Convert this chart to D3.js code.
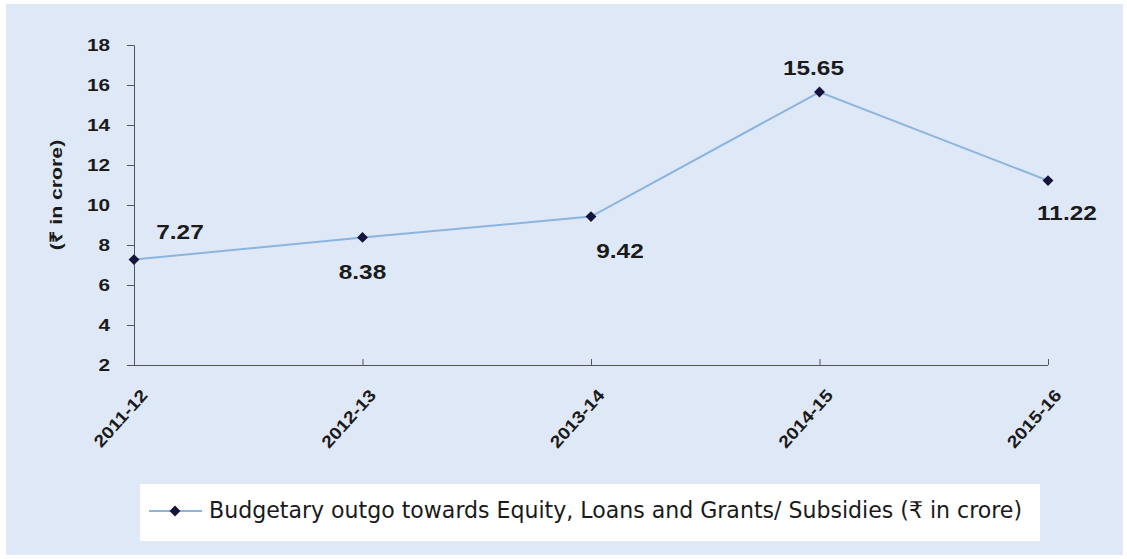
<!DOCTYPE html>
<html>
<head>
<meta charset="utf-8">
<script src="https://cdn.jsdelivr.net/npm/d3@7/dist/d3.min.js"></script>
<style>
  html, body { margin: 0; padding: 0; background: #ffffff; }
  svg { display: block; }
</style>
</head>
<body>
<svg id="chart" width="1127" height="559"></svg>
<script>
// Budgetary outgo by year
const years = ["2011-12", "2012-13", "2013-14", "2014-15", "2015-16"];
const outgo = [7.27, 8.38, 9.42, 15.65, 11.22];
const yTicks = [2, 4, 6, 8, 10, 12, 14, 16, 18];
const legendText = "Budgetary outgo towards Equity, Loans and Grants/ Subsidies (\u20B9 in crore)";
const yTitle = "(\u20B9 in crore)";

// label placement relative to each point: [dx, dy]
const labelOffsets = [[46, -21], [0, 42], [29, 41], [-6, -17], [19, 39]];

const svg = d3.select("#chart");
const W = 1127, H = 559;
const SANS = "Liberation Sans, Arial, sans-serif";

// widen glyphs horizontally by factor k
function stretch(sel, k) {
  sel.each(function () {
    const len = this.getComputedTextLength();
    d3.select(this).attr("textLength", len * k).attr("lengthAdjust", "spacingAndGlyphs");
  });
}

// panel background
svg.append("rect").attr("x", 0).attr("y", 0).attr("width", W).attr("height", H).attr("fill", "#ffffff");
svg.append("rect").attr("x", 6).attr("y", 4).attr("width", W - 10).attr("height", H - 8).attr("fill", "#dfe8f7");

const plot = { left: 134, right: 1048, top: 45, bottom: 365 };

const x = d3.scalePoint().domain(years).range([plot.left, plot.right]);
const y = d3.scaleLinear().domain([2, 18]).range([plot.bottom, plot.top]);

const axisColor = "#555";

// y axis
const yAxis = svg.append("g")
  .attr("transform", `translate(${plot.left},0)`)
  .call(d3.axisLeft(y).tickValues(yTicks).tickSize(7).tickPadding(17).tickFormat(d3.format("d")));
yAxis.select(".domain").attr("stroke", axisColor).attr("stroke-width", 1);
yAxis.selectAll(".tick line").attr("stroke", axisColor);
yAxis.selectAll(".tick text")
  .attr("font-family", SANS)
  .attr("font-weight", "bold")
  .attr("font-size", 17)
  .attr("fill", "#1a1a1a")
  .call(stretch, 1.22);

// x axis
const xAxis = svg.append("g")
  .attr("transform", `translate(0,${plot.bottom})`)
  .call(d3.axisBottom(x).tickSize(-6).tickSizeOuter(0).tickPadding(0));
xAxis.select(".domain").attr("stroke", axisColor).attr("stroke-width", 1)
  .attr("d", `M${plot.left - 7},0.5H${plot.right}`);
xAxis.selectAll(".tick line").attr("stroke", axisColor);
xAxis.selectAll(".tick text")
  .attr("font-family", SANS)
  .attr("font-weight", "bold")
  .attr("font-size", 17)
  .attr("fill", "#1a1a1a")
  .attr("text-anchor", "end")
  .attr("dy", null)
  .attr("transform", "translate(14,31) rotate(-48)")
  .call(stretch, 1.15);

// y axis title
svg.append("text")
  .attr("transform", `translate(62,195) rotate(-90)`)
  .attr("text-anchor", "middle")
  .attr("font-family", SANS)
  .attr("font-weight", "bold")
  .attr("font-size", 17)
  .attr("fill", "#1a1a1a")
  .text(yTitle)
  .call(stretch, 1.25);

// series line
const line = d3.line().x((d, i) => x(years[i])).y(d => y(d));
svg.append("path")
  .datum(outgo)
  .attr("d", line)
  .attr("fill", "none")
  .attr("stroke", "#8bb5de")
  .attr("stroke-width", 2);

// diamond markers
const diamond = d3.symbol().type(d3.symbolDiamond2).size(75);
svg.append("g").selectAll("path")
  .data(outgo)
  .join("path")
  .attr("d", diamond)
  .attr("transform", (d, i) => `translate(${x(years[i])},${y(d)})`)
  .attr("fill", "#14143c");

// value labels
svg.append("g").selectAll("text")
  .data(outgo)
  .join("text")
  .attr("x", (d, i) => x(years[i]) + labelOffsets[i][0])
  .attr("y", (d, i) => y(d) + labelOffsets[i][1])
  .attr("text-anchor", "middle")
  .attr("font-family", SANS)
  .attr("font-weight", "bold")
  .attr("font-size", 20)
  .attr("fill", "#1a1a1a")
  .text(d => d.toFixed(2))
  .call(stretch, 1.22);

// legend
const lg = svg.append("g");
lg.append("rect").attr("x", 140).attr("y", 484).attr("width", 900).attr("height", 57).attr("fill", "#ffffff");
lg.append("line").attr("x1", 149).attr("x2", 202).attr("y1", 511).attr("y2", 511)
  .attr("stroke", "#8bb5de").attr("stroke-width", 2);
lg.append("path").attr("d", diamond).attr("transform", "translate(175,511)").attr("fill", "#14143c");
lg.append("text")
  .attr("x", 209).attr("y", 518)
  .attr("font-family", "DejaVu Sans Condensed, DejaVu Sans, sans-serif")
  .attr("font-size", 23)
  .attr("fill", "#1a1a1a")
  .attr("textLength", 813)
  .attr("lengthAdjust", "spacingAndGlyphs")
  .text(legendText);
</script>
</body>
</html>
